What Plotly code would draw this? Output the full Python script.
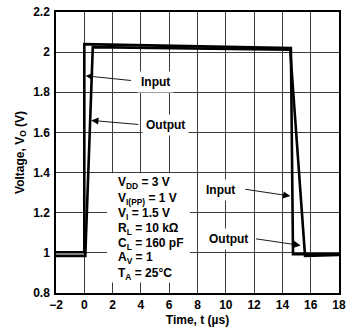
import plotly.graph_objects as go

# Square-wave response of the amplifier (time in microseconds, volts)
input_t = [-2, 0.0, 0.0, 14.6, 14.75, 18]
input_v = [1.003, 1.003, 2.04, 2.02, 0.993, 0.993]

output_t = [-2, 0.07, 0.6, 14.55, 15.6, 18]
output_v = [0.985, 0.985, 2.025, 2.012, 0.985, 0.99]

x_ticks = [-2, 0, 2, 4, 6, 8, 10, 12, 14, 16, 18]
y_ticks = [0.8, 1.0, 1.2, 1.4, 1.6, 1.8, 2.0, 2.2]
y_tick_text = ["0.8", "1", "1.2", "1.4", "1.6", "1.8", "2", "2.2"]

conditions = [
    "V<sub>DD</sub> = 3 V",
    "V<sub>I(PP)</sub> = 1 V",
    "V<sub>I</sub> = 1.5 V",
    "R<sub>L</sub> = 10 kΩ",
    "C<sub>L</sub> = 160 pF",
    "A<sub>V</sub> = 1",
    "T<sub>A</sub> = 25°C",
]
condition_v = [1.347, 1.270, 1.192, 1.119, 1.046, 0.973, 0.896]

FONT = "Liberation Sans"

fig = go.Figure()
fig.add_trace(go.Scatter(x=input_t, y=input_v, mode="lines",
                         line=dict(color="black", width=2.6), name="Input"))
fig.add_trace(go.Scatter(x=output_t, y=output_v, mode="lines",
                         line=dict(color="black", width=2.6), name="Output"))

# white panel behind the test-condition block
fig.add_shape(type="rect", x0=1.61, x1=7.47, y0=0.852, y1=1.396,
              xref="x", yref="y", fillcolor="white", line=dict(width=0),
              layer="between")

for txt, v in zip(conditions, condition_v):
    fig.add_annotation(x=2.23, y=v, text=f"<b>{txt}</b>", showarrow=False,
                       xanchor="left", yanchor="middle",
                       font=dict(family=FONT, size=12, color="black"))

# callout arrows
arrows = [
    (0.1, 1.882, 3.40, 1.858),
    (0.49, 1.66, 3.93, 1.639),
    (14.56, 1.283, 11.27, 1.318),
    (15.29, 1.037, 12.03, 1.071),
]
for x, y, ax, ay in arrows:
    fig.add_annotation(x=x, y=y, ax=ax, ay=ay, xref="x", yref="y",
                       axref="x", ayref="y", text="", showarrow=True,
                       arrowhead=2, arrowsize=1.6, arrowwidth=0.9,
                       arrowcolor="black")

labels = [
    ("Input", 5.0, 1.849),
    ("Output", 5.71, 1.639),
    ("Input", 9.6, 1.315),
    ("Output", 10.19, 1.0675),
]
for txt, x, y in labels:
    fig.add_annotation(x=x, y=y, text=f"<b>{txt}</b>", showarrow=False,
                       xanchor="center", yanchor="middle", bgcolor="white",
                       borderpad=3,
                       font=dict(family=FONT, size=12, color="black"))

grid = "#3c3c3c"
fig.update_xaxes(range=[-2, 18], tickvals=x_ticks,
                 ticktext=[("−2" if t < 0 else str(t)) for t in x_ticks],
                 showgrid=True, gridcolor=grid, gridwidth=1, zeroline=False,
                 showline=True, linecolor="black", linewidth=1.5, mirror=True,
                 ticks="", tickfont=dict(family=FONT, size=12, color="black", weight="bold"),
                 title=dict(text="<b>Time, t (µs)</b>", standoff=4,
                            font=dict(family=FONT, size=12, color="black")))
fig.update_yaxes(range=[0.8, 2.2], tickvals=y_ticks, ticktext=y_tick_text,
                 showgrid=True, gridcolor=grid, gridwidth=1, zeroline=False,
                 showline=True, linecolor="black", linewidth=1.5, mirror=True,
                 ticks="", ticklabelstandoff=2,
                 tickfont=dict(family=FONT, size=12, color="black", weight="bold"),
                 title=dict(text="<b>Voltage, V<sub>O</sub> (V)</b>", standoff=6,
                            font=dict(family=FONT, size=12, color="black")))

fig.update_layout(width=351, height=331, showlegend=False,
                  margin=dict(l=56, r=5, t=5, b=38),
                  plot_bgcolor="white", paper_bgcolor="white")

fig.write_html("out.html")
